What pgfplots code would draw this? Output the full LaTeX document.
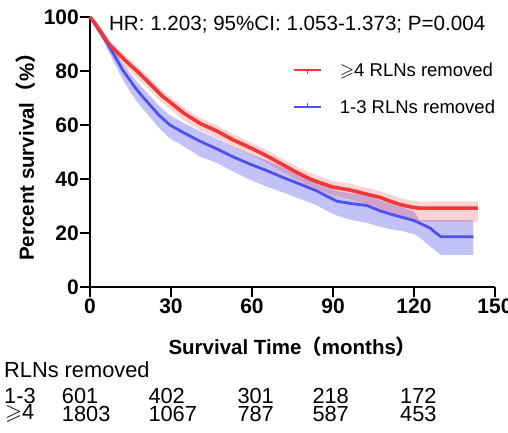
\documentclass[border=0pt]{standalone}
\usepackage{fontspec}
\setmainfont{Liberation Sans}
\newfontfamily\cjk{Noto Sans CJK SC}
\usepackage{amssymb}
\usepackage{pgfplots}
\usepackage{pgfplotstable}
\pgfplotsset{compat=1.18}
\usepgfplotslibrary{fillbetween}
\definecolor{kmred}{RGB}{240,55,55}
\definecolor{kmblue}{RGB}{80,80,235}

\pgfplotstableread{
x s lo hi
0 100 100 100
2 97.5 96.8 98.1
4.4 94 92.8 95.0
7 90 88.4 91.3
10 87 85.0 88.6
13.5 83.5 81.2 85.3
17.4 80 77.6 81.9
21 76.5 74.0 78.5
24 73.5 71.0 75.5
27 70.5 68.0 72.5
30 68.2 65.6 70.3
34.6 64.5 61.9 66.6
40.7 60.6 58.0 62.7
46.9 57.8 55.2 59.9
53 54.5 51.9 56.6
59.3 51.6 49.0 53.7
65 48.8 46.1 51.0
71.6 45.2 42.5 47.4
77 42.2 39.5 44.4
81.5 40 37.2 42.3
84 39 36.2 41.3
90 37 34.0 39.3
96.3 35.9 32.6 38.2
100 35 31.4 37.3
104 34 30.0 36.4
107.4 33.2 28.6 35.5
111 31.8 27.3 34.2
115 30.5 26.0 32.9
119 29.6 24.9 32.0
122 29.2 24.2 31.6
143.7 29.2 24.2 31.6
}\redtab

\pgfplotstableread{
x s lo hi
0 100 100 100
3 95.5 94.5 96.3
5.6 91.5 89.8 92.8
8 87.5 85.0 89.3
10 84 81.0 86.2
12 80.5 77.0 83.0
14.5 77 73.0 79.7
17 73.5 69.2 76.5
19.5 70.5 66.0 73.7
22.2 67.4 63.0 70.8
25.5 63.7 59.0 67.2
29.6 60 55.0 63.6
34.6 57.2 52.2 60.8
40.7 54 48.3 57.7
46.9 51.2 46.0 54.9
53 48.2 42.8 52.0
59.3 45.5 39.7 49.3
65 43.3 37.3 47.1
71.6 40.5 35.0 44.3
78 38 32.5 41.8
84 35.6 30.3 39.4
88 33.5 28.0 37.3
91.4 31.8 26.5 35.6
96 31 25.0 34.8
102.5 30.2 23.8 34.0
107.4 28.2 22.3 32.0
112 26.8 21.3 30.6
116 25.7 20.6 29.5
120 24.6 19.6 28.0
122 23.7 18.5 24.8
126 21.8 15.0 24.8
127.5 20.5 13.9 24.8
130 18.6 11.9 24.8
142 18.6 11.9 24.8
}\bluetab

\begin{document}
\begin{tikzpicture}
\begin{axis}[
  at={(0pt,0pt)}, anchor=south west,
  scale only axis, width=405pt, height=270pt,
  xmin=0, xmax=150, ymin=0, ymax=100,
  clip=false,
  axis lines=left,
  axis line style={-, line width=2.5pt, black},
  xtick={0,30,60,90,120,150},
  ytick={0,20,40,60,80,100},
  tick align=outside,
  major tick length=10pt,
  tick style={line width=2.5pt, black},
  /pgf/number format/assume math mode=true,
  xticklabel style={font=\fontsize{21}{25}\selectfont\bfseries, inner sep=2pt},
  yticklabel style={font=\fontsize{21}{25}\selectfont\bfseries, inner sep=1pt},
  xlabel={Survival Time{\cjk （}months{\cjk ）}},
  ylabel={Percent survival{\cjk （}\%{\cjk ）}},
  every axis x label/.style={at={(axis description cs:0.5,-0.221)}, anchor=center, font=\fontsize{20.5}{24}\selectfont\bfseries},
  every axis y label/.style={at={(axis description cs:-0.158,0.5)}, anchor=center, rotate=90, font=\fontsize{20.5}{24}\selectfont\bfseries},
  legend cell align=left,
  legend style={draw=none, fill=none, inner sep=0pt, at={(axis cs:75.2,82.8)}, anchor=north west,
    row sep=24pt, column sep=18pt,
    nodes={inner sep=0pt, text height=13pt, text depth=0pt},
    font=\fontsize{18.5}{22}\selectfont},
]
% confidence bands
\addplot[draw=none, name path=bhi, forget plot] table[x=x, y=hi] {\bluetab};
\addplot[draw=none, name path=blo, forget plot] table[x=x, y=lo] {\bluetab};
\addplot[fill=kmblue, fill opacity=0.35, draw=none, forget plot] fill between[of=bhi and blo];
\addplot[draw=none, name path=rhi, forget plot] table[x=x, y=hi] {\redtab};
\addplot[draw=none, name path=rlo, forget plot] table[x=x, y=lo] {\redtab};
\addplot[fill=kmred, fill opacity=0.22, draw=none, forget plot] fill between[of=rhi and rlo];
% survival curves
\addplot[kmblue, line width=2.8pt, line join=round, forget plot] table[x=x, y=s] {\bluetab};
\addplot[kmred, line width=3.6pt, line join=round, forget plot] table[x=x, y=s] {\redtab};
% legend
\addlegendimage{legend image code/.code={\draw[kmred, line width=1.6pt] (0pt,0pt) -- (27pt,0pt); \draw[kmred, line width=1.6pt] (13.5pt,0pt) -- (13.5pt,-4pt);}}
\addlegendentry{$\geqslant$4 RLNs removed}
\addlegendimage{legend image code/.code={\draw[kmblue, line width=1.6pt] (0pt,0pt) -- (27pt,0pt); \draw[kmblue, line width=1.6pt] (13.5pt,0pt) -- (13.5pt,4pt);}}
\addlegendentry{1-3 RLNs removed}
\node[anchor=west, inner sep=0pt, font=\fontsize{20.6}{24}\selectfont] at (axis cs:7,97) {HR: 1.203; 95\%CI: 1.053-1.373; P=0.004};
\end{axis}
% number at risk table
\begin{scope}[every node/.style={anchor=west, inner sep=0pt, font=\fontsize{21.8}{25}\selectfont}]
\node at (-86pt,-83pt) {RLNs removed};
\node at (-86pt,-108.8pt) {1-3};
\node at (-85pt,-126.8pt) {$\geqslant$4};
\node at (-28.3pt,-108.8pt) {601};
\node at (58.3pt,-108.8pt) {402};
\node at (147.3pt,-108.8pt) {301};
\node at (222.3pt,-108.8pt) {218};
\node at (310pt,-108.8pt) {172};
\node at (-28.3pt,-126.8pt) {1803};
\node at (58.3pt,-126.8pt) {1067};
\node at (147.3pt,-126.8pt) {787};
\node at (222.3pt,-126.8pt) {587};
\node at (310pt,-126.8pt) {453};
\end{scope}
\pgfresetboundingbox
\path[use as bounding box] (-90pt,-145pt) rectangle (418pt,287pt);
\end{tikzpicture}
\end{document}
